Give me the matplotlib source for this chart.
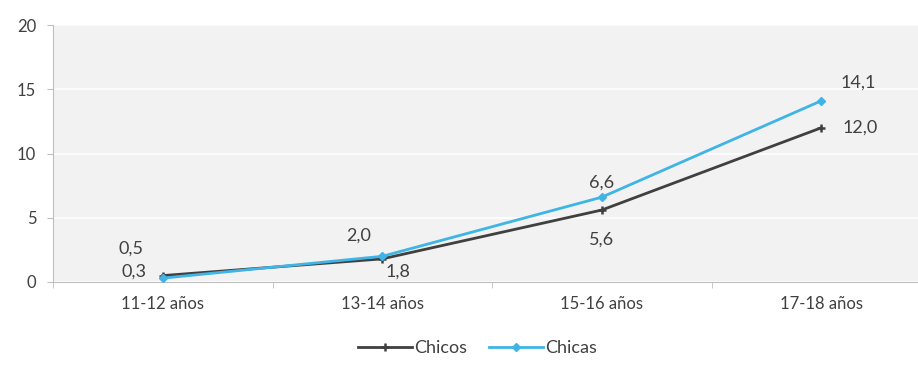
import matplotlib.pyplot as plt
import numpy as np

plt.rcParams["font.family"] = ["Lato", "DejaVu Sans"]

categories = ["11-12 años", "13-14 años", "15-16 años", "17-18 años"]
chicos = [0.5, 1.8, 5.6, 12.0]
chicas = [0.3, 2.0, 6.6, 14.1]

# label offsets in pixels (dx, dy) for each point
chicos_offsets = [(-32, 27), (16, -13), (0, -30), (39, 0)]
chicas_offsets = [(-29, 7), (-24, 21), (0, 15), (37, 18)]

DARK = "#404040"
BLUE = "#3fb4e6"
TEXT = "#404040"

fig = plt.figure(figsize=(9.18, 3.67), dpi=100)
ax = fig.add_axes([53 / 918, 1 - 282 / 367, 878 / 918, 257 / 367])
ax.set_facecolor("#f2f2f2")

x = np.arange(len(categories))
ax.plot(x, chicos, color=DARK, lw=2, marker="+", ms=6, mew=1.8, label="Chicos", zorder=3)
ax.plot(x, chicas, color=BLUE, lw=2, marker="D", ms=4, label="Chicas", zorder=4)

for xi, v, (dx, dy) in zip(x, chicos, chicos_offsets):
    ax.annotate(f"{v:.1f}".replace(".", ","), (xi, v), xytext=(dx, dy),
                textcoords="offset pixels", ha="center", va="center",
                fontsize=13, color=TEXT)
for xi, v, (dx, dy) in zip(x, chicas, chicas_offsets):
    ax.annotate(f"{v:.1f}".replace(".", ","), (xi, v), xytext=(dx, dy),
                textcoords="offset pixels", ha="center", va="center",
                fontsize=13, color=TEXT)

ax.set_xlim(-0.5, 3.5)
ax.set_ylim(0, 20)
ax.set_yticks([0, 5, 10, 15, 20])
ax.yaxis.grid(True, color="white", lw=1.2)
ax.set_axisbelow(True)

ax.set_xticks(x)
ax.set_xticklabels(categories)
ax.set_xticks(np.arange(-0.5, 4, 1), minor=True)
ax.tick_params(axis="x", which="major", length=0, pad=10, labelsize=12, labelcolor=TEXT)
ax.tick_params(axis="x", which="minor", length=4, color="#bfbfbf")
ax.tick_params(axis="y", length=4, color="#bfbfbf", labelsize=12, labelcolor=TEXT, pad=8)

for s in ["top", "right"]:
    ax.spines[s].set_visible(False)
for s in ["left", "bottom"]:
    ax.spines[s].set_color("#bfbfbf")

fig.legend(loc="lower center", bbox_to_anchor=(0.52, -0.015), ncol=2, frameon=False,
           fontsize=13, handlelength=3, handletextpad=0.1, columnspacing=1.2,
           labelcolor=TEXT)

fig.savefig("out.png", dpi=100)
